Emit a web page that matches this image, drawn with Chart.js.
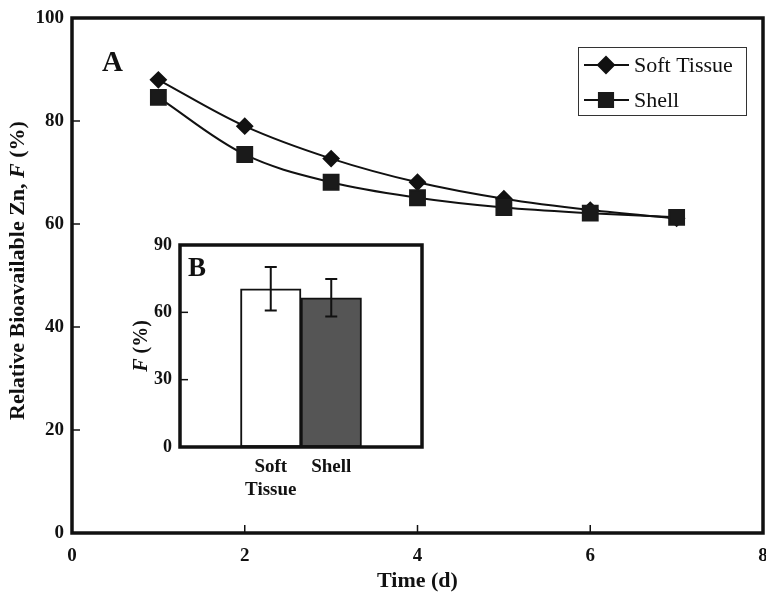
<!DOCTYPE html>
<html>
<head>
<meta charset="utf-8">
<script src="https://cdn.jsdelivr.net/npm/chart.js@4.4.1/dist/chart.umd.min.js"></script>
<style>
  html, body { margin: 0; padding: 0; background: #fff; }
  #wrap { position: relative; width: 766px; height: 592px; overflow: hidden; }
  #main { position: absolute; left: 0; top: 0; }
  #inset { position: absolute; left: 110px; top: 225px; }
</style>
</head>
<body>
<div id="wrap">
  <canvas id="main" width="766" height="592"></canvas>
  <canvas id="inset" width="330" height="280"></canvas>
</div>
<script>
// panel A: relative bioavailable Zn over time
const days = [1, 2, 3, 4, 5, 6, 7];
const softTissue = [88.0, 79.0, 72.7, 68.1, 64.9, 62.7, 61.1];
const shell = [84.6, 73.5, 68.1, 65.1, 63.2, 62.1, 61.3];

// panel B: mean F with error bars
const insetLabels = [["Soft", "Tissue"], "Shell"];
const insetMeans = [70.5, 66.5];
const insetErrors = [9.7, 8.4];

const serif = "'Liberation Serif', 'Times New Roman', serif";

// box around chart area + inward tick marks
const framePlugin = {
    id: "frame",
    afterDraw(chart, args, opts) {
        const { ctx, chartArea: a } = chart;
        ctx.save();
        ctx.strokeStyle = "#111";
        ctx.lineWidth = opts.width;
        ctx.strokeRect(a.left, a.top, a.right - a.left, a.bottom - a.top);
        ctx.lineWidth = 1.5;
        if (opts.xTicks) {
            const sx = chart.scales.x;
            sx.ticks.forEach((t, i) => {
                const px = sx.getPixelForTick(i);
                ctx.beginPath();
                ctx.moveTo(px, a.bottom);
                ctx.lineTo(px, a.bottom - opts.tickLen);
                ctx.stroke();
            });
        }
        const sy = chart.scales.y;
        sy.ticks.forEach((t, i) => {
            const py = sy.getPixelForTick(i);
            ctx.beginPath();
            ctx.moveTo(a.left, py);
            ctx.lineTo(a.left + opts.tickLen, py);
            ctx.stroke();
        });
        ctx.restore();
    }
};

// big panel letter (A / B)
const panelLabelPlugin = {
    id: "panelLabel",
    afterDraw(chart, args, opts) {
        const { ctx, chartArea: a } = chart;
        ctx.save();
        ctx.font = "bold " + opts.size + "px " + serif;
        ctx.fillStyle = "#111";
        ctx.textAlign = "left";
        ctx.textBaseline = "alphabetic";
        ctx.fillText(opts.text, a.left + opts.dx, a.top + opts.dy);
        ctx.restore();
    }
};

// rotated y title with an italic symbol in it
const richTitlePlugin = {
    id: "richTitle",
    afterDraw(chart, args, opts) {
        const { ctx, chartArea: a } = chart;
        const fontOf = (p) => (p.italic ? "italic " : "") + "bold " + opts.size + "px " + serif;
        let total = 0;
        opts.parts.forEach((p) => {
            ctx.font = fontOf(p);
            total += ctx.measureText(p.text).width;
        });
        ctx.save();
        ctx.translate(opts.x, (a.top + a.bottom) / 2 + opts.dy);
        ctx.rotate(-Math.PI / 2);
        ctx.fillStyle = "#111";
        ctx.textAlign = "left";
        ctx.textBaseline = "middle";
        let x = -total / 2;
        opts.parts.forEach((p) => {
            ctx.font = fontOf(p);
            ctx.fillText(p.text, x, 0);
            x += ctx.measureText(p.text).width;
        });
        ctx.restore();
    }
};

// boxed legend with line + marker, built from the datasets
const boxLegendPlugin = {
    id: "boxLegend",
    afterDraw(chart, args, opts) {
        const { ctx } = chart;
        ctx.save();
        ctx.strokeStyle = "#333";
        ctx.lineWidth = 1;
        ctx.strokeRect(opts.x + 0.5, opts.y + 0.5, opts.w, opts.h);
        chart.data.datasets.forEach((ds, i) => {
            const cy = opts.y + opts.firstRow + i * opts.rowGap;
            const lx = opts.x + 6;
            ctx.strokeStyle = ds.borderColor;
            ctx.lineWidth = ds.borderWidth;
            ctx.beginPath();
            ctx.moveTo(lx, cy);
            ctx.lineTo(lx + 45, cy);
            ctx.stroke();
            ctx.fillStyle = ds.pointBackgroundColor;
            ctx.strokeStyle = ds.pointBorderColor;
            Chart.helpers.drawPoint(ctx, {
                pointStyle: ds.pointStyle,
                radius: ds.legendRadius,
                rotation: 0,
                borderWidth: 1
            }, lx + 22, cy);
            ctx.fillStyle = "#111";
            ctx.font = "22px " + serif;
            ctx.textBaseline = "middle";
            ctx.fillText(ds.label, lx + 50, cy + 1);
        });
        ctx.restore();
    }
};

// vertical error bars with caps on each bar
const errorBarPlugin = {
    id: "errorBars",
    afterDatasetsDraw(chart, args, opts) {
        const { ctx } = chart;
        const sy = chart.scales.y;
        const meta = chart.getDatasetMeta(0);
        ctx.save();
        ctx.strokeStyle = "#111";
        ctx.lineWidth = 2;
        meta.data.forEach((bar, i) => {
            const k = i - 1;
            if (k < 0 || k >= insetMeans.length) return;
            const top = sy.getPixelForValue(insetMeans[k] + insetErrors[k]);
            const bot = sy.getPixelForValue(insetMeans[k] - insetErrors[k]);
            ctx.beginPath();
            ctx.moveTo(bar.x, top);
            ctx.lineTo(bar.x, bot);
            ctx.moveTo(bar.x - opts.cap, top);
            ctx.lineTo(bar.x + opts.cap, top);
            ctx.moveTo(bar.x - opts.cap, bot);
            ctx.lineTo(bar.x + opts.cap, bot);
            ctx.stroke();
        });
        ctx.restore();
    }
};

new Chart(document.getElementById("main").getContext("2d"), {
    type: "line",
    data: {
        datasets: [
            {
                label: "Soft Tissue",
                data: days.map((d, i) => ({ x: d, y: softTissue[i] })),
                borderColor: "#111",
                borderWidth: 2,
                pointStyle: "rectRot",
                pointRadius: 7.5,
                legendRadius: 8,
                pointBackgroundColor: "#111",
                pointBorderColor: "#111",
                tension: 0.35,
                order: 1
            },
            {
                label: "Shell",
                data: days.map((d, i) => ({ x: d, y: shell[i] })),
                borderColor: "#111",
                borderWidth: 2,
                pointStyle: "rect",
                pointRadius: 10.5,
                legendRadius: 10,
                pointBackgroundColor: "#1a1a1a",
                pointBorderColor: "#1a1a1a",
                tension: 0.35,
                order: 0
            }
        ]
    },
    options: {
        responsive: false,
        animation: false,
        layout: { autoPadding: false, padding: { top: 18, right: 3, left: 0, bottom: 0 } },
        scales: {
            x: {
                type: "linear",
                min: 0,
                max: 8,
                grid: { display: false, drawTicks: false },
                border: { display: false },
                ticks: {
                    stepSize: 2,
                    padding: 12,
                    color: "#111",
                    font: { family: serif, size: 19, weight: "bold" }
                },
                title: {
                    display: true,
                    text: "Time (d)",
                    color: "#111",
                    padding: { top: 0, bottom: 0 },
                    font: { family: serif, size: 22, weight: "bold", lineHeight: 1 }
                },
                afterFit(scale) {
                    scale.height = 59;
                    scale.paddingLeft = 0;
                    scale.paddingRight = 0;
                }
            },
            y: {
                min: 0,
                max: 100,
                grid: { display: false, drawTicks: false },
                border: { display: false },
                ticks: {
                    stepSize: 20,
                    padding: 8,
                    color: "#111",
                    font: { family: serif, size: 19, weight: "bold" }
                },
                afterFit(scale) {
                    scale.width = 72;
                    scale.paddingTop = 0;
                    scale.paddingBottom = 0;
                }
            }
        },
        plugins: {
            legend: { display: false },
            tooltip: { enabled: false },
            frame: { width: 3.5, tickLen: 8, xTicks: true },
            panelLabel: { text: "A", size: 29, dx: 30, dy: 53 },
            richTitle: {
                x: 18, dy: -5, size: 22,
                parts: [{ text: "Relative Bioavailable Zn, " }, { text: "F", italic: true }, { text: " (%)" }]
            },
            boxLegend: { x: 578, y: 47, w: 168, h: 68, firstRow: 18, rowGap: 35 }
        }
    },
    plugins: [framePlugin, panelLabelPlugin, richTitlePlugin, boxLegendPlugin]
});

new Chart(document.getElementById("inset").getContext("2d"), {
    type: "bar",
    data: {
        labels: ["", ...insetLabels, ""],
        datasets: [
            {
                data: [null, ...insetMeans, null],
                backgroundColor: ["#fff", "#fff", "#555", "#fff"],
                borderColor: "#111",
                borderWidth: 2,
                borderSkipped: false,
                barPercentage: 1,
                categoryPercentage: 1
            }
        ]
    },
    options: {
        responsive: false,
        animation: false,
        layout: { padding: { top: 20, right: 18, left: 0, bottom: 0 } },
        scales: {
            x: {
                grid: { display: false, drawTicks: false },
                border: { display: false },
                ticks: {
                    padding: 9,
                    color: "#111",
                    autoSkip: false,
                    maxRotation: 0,
                    font: { family: serif, size: 19, weight: "bold", lineHeight: 1.2 }
                },
                afterFit(scale) {
                    scale.height = 58;
                    scale.paddingLeft = 0;
                    scale.paddingRight = 0;
                }
            },
            y: {
                min: 0,
                max: 90,
                grid: { display: false, drawTicks: false },
                border: { display: false },
                ticks: {
                    stepSize: 30,
                    padding: 8,
                    color: "#111",
                    font: { family: serif, size: 18, weight: "bold" }
                },
                afterFit(scale) {
                    scale.width = 70;
                    scale.paddingTop = 0;
                    scale.paddingBottom = 0;
                }
            }
        },
        plugins: {
            legend: { display: false },
            tooltip: { enabled: false },
            frame: { width: 3.5, tickLen: 8, xTicks: false },
            panelLabel: { text: "B", size: 27, dx: 8, dy: 31 },
            richTitle: {
                x: 32, dy: 0, size: 20,
                parts: [{ text: "F", italic: true }, { text: " (%)" }]
            },
            errorBars: { cap: 6 }
        }
    },
    plugins: [framePlugin, panelLabelPlugin, richTitlePlugin, errorBarPlugin]
});
</script>
</body>
</html>
